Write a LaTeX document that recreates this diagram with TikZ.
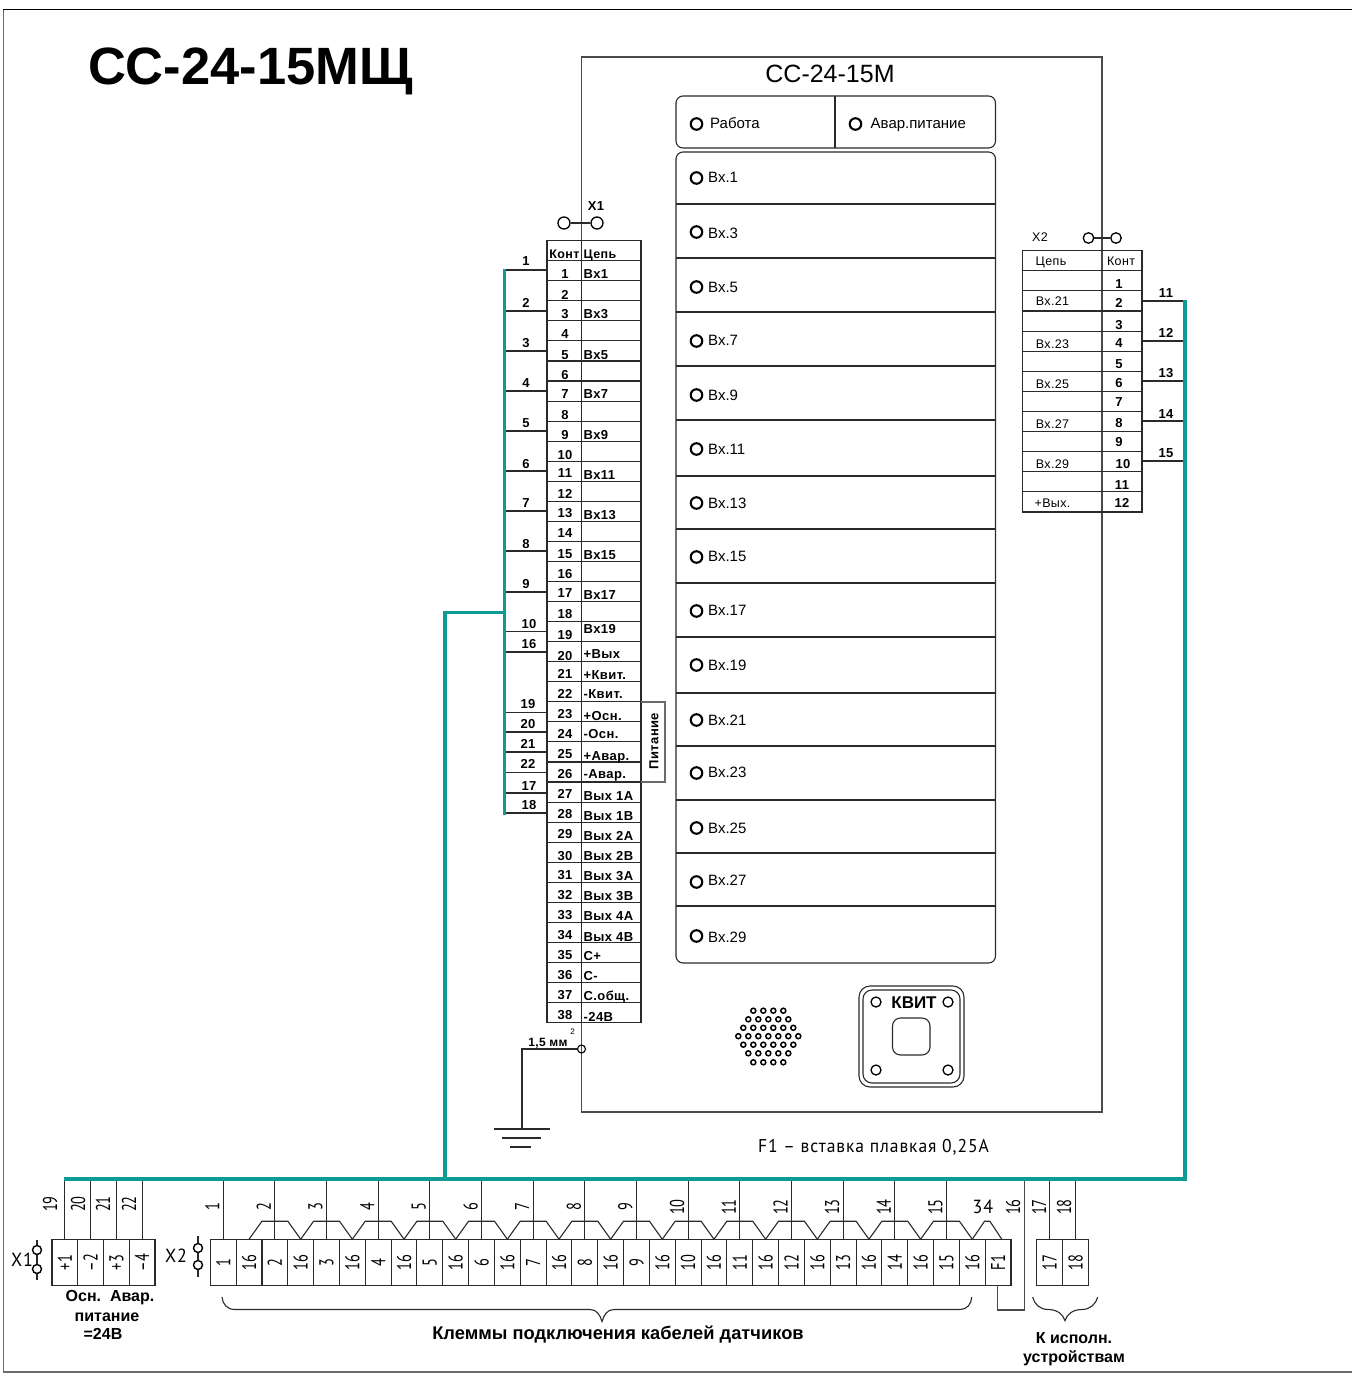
\documentclass[tikz,border=0pt]{standalone}
\usepackage{fontspec}
\usepackage{graphicx}
\setmainfont{Liberation Sans}
\newfontfamily\techfont[FakeStretch=0.72]{PT Sans}
\newfontfamily\techwide[FakeStretch=0.95,LetterSpace=5]{PT Sans}
\newfontfamily\wideb[LetterSpace=3]{Liberation Sans}
\newcommand\fz[1]{\fontsize{#1}{#1}\selectfont}
\newcommand\rt[1]{\rotatebox{90}{#1}}
\definecolor{busteal}{HTML}{0E9A95}
\definecolor{wiregray}{HTML}{2A2A2A}
\definecolor{framegray}{HTML}{6A6A6A}
\tikzset{
  ln/.style={line width=1.1pt,wiregray},
  bus/.style={line width=3.7pt,busteal},
  base/.style={inner sep=0pt,black},
  sz/.style={base,text depth=0pt,text height={#1*0.72pt}},
  tb/.style={sz=13,font=\wideb\fz{13}\bfseries},
  tbh/.style={sz=12.5,font=\wideb\fz{12.5}\bfseries},
  tr/.style={sz=12.5,font=\wideb\fz{12.5}},
  ledlab/.style={sz=15,anchor=west,font=\fz{15}},
  bt/.style={sz=16,font=\fz{16}\bfseries},
  tech/.style={sz=19,font=\techwide\fz{19}},
  techr/.style={base,font=\techfont\fz{20}},
  led/.style={circle,draw=black,line width=2.1pt,minimum size=11.5pt,inner sep=0pt},
  term/.style={circle,draw=black,line width=1.3pt,minimum size=12pt,inner sep=0pt},
  sterm/.style={circle,draw=black,line width=1.4pt,minimum size=9pt,inner sep=0pt},
  cell/.style={draw=wiregray,line width=1.1pt,minimum width=25.83pt,minimum height=45.5pt,inner sep=0pt,font=\techfont\fz{20}},
  dot/.style={circle,draw=black,fill=white,line width=1.5pt,minimum size=5pt,inner sep=0pt},
  hole/.style={circle,draw=black,line width=1.3pt,minimum size=10pt,inner sep=0pt}
}
\begin{document}
\begin{tikzpicture}[x=1pt,y=-1pt]
\useasboundingbox (0,0) rectangle (1352,1374);
\draw[framegray,line width=1.5pt] (1353,1372) -- (3.5,1372) -- (3.5,9.5);
\draw[black,line width=1.2pt] (3,9.5) -- (1353,9.5);
\node[sz=52.5,font=\fz{52.5}\bfseries] (title) at (250.5,66) {СС-24-15МЩ};
% device outline
\draw[ln,framegray!70!black] (581.5,1112) -- (581.5,57) -- (1102,57) -- (1102,1112) -- cycle;
\node[sz=25,font=\fz{25}] (devname) at (830,73) {СС-24-15М};
% upper panel
\draw[ln,rounded corners=7pt] (676,96) rectangle (995.5,148);
\draw[ln] (835,96) -- (835,148);
\node[led] (ledA) at (696.5,124) {};
\node[ledlab] (labA) at (710,123) {Работа};
\node[led] (ledB) at (855.5,124) {};
\node[ledlab] (labB) at (870.5,123) {Авар.питание};
% main panel
\draw[ln,rounded corners=7pt] (676,152) rectangle (995.5,963);
\foreach \y in {204,258,312,366,420,476,529,583,637,693,746,800,853,906}
  \draw[ln] (676,\y) -- (995.5,\y);
\foreach \ly/\ty/\t [count=\i] in {178/177/1,232/233/3,287/287/5,341/340/7,395/395/9,449/449/11,503/503/13,557/556/15,611/610/17,665/665/19,720/720/21,773/772/23,828/828/25,882/880/27,936/937/29}{
  \node[led] (vled\i) at (696.5,\ly) {};
  \node[ledlab] (vlab\i) at (708,\ty) {Вх.\t};
}
% X1 connector
\node[term] (xoneA) at (564,223) {};
\node[term] (xoneB) at (597,223) {};
\draw[ln] (xoneA) -- (xoneB);
\node[tb] (xonelab) at (596,206) {X1};
% left table
\draw[ln] (547,240.5) rectangle (641,1022.7);
\draw[ln] (581.5,240.5) -- (581.5,1022.7);
\foreach \i in {0,...,38}
  \draw[ln] (547,260.7+20.05*\i) -- (641,260.7+20.05*\i);
\node[tbh] (hkont) at (564.5,254) {Конт};
\node[tbh] (hcep) at (600,254) {Цепь};
\foreach \y [count=\i] in {274,295,314,334,355,375,394,415,435,455,473,494,513,533,554,574,593,614,635,656,674,694,714,734,754,774,794,814,834,856,875,895,915,935,955,975,995,1015}
  \node[tb] (lnum\i) at (565,\y) {\i};
\foreach \y/\t [count=\i] in {274/Вх1,314/Вх3,355/Вх5,394/Вх7,435/Вх9,475/Вх11,515/Вх13,555/Вх15,595/Вх17,629/Вх19,654/+Вых,675/+Квит.,694/-Квит.,716/+Осн.,734/-Осн.,756/+Авар.,774/-Авар.,796/Вых 1А,816/Вых 1В,836/Вых 2А,856/Вых 2В,876/Вых 3А,896/Вых 3В,916/Вых 4А,937/Вых 4В,956/С+,976/С-,996/С.общ.,1017/-24В}
  \node[tb,anchor=west] (lname\i) at (583.5,\y) {\t};
% Pitanie bracket
\draw[ln,framegray] (641,702) -- (665,702) -- (665,782) -- (641,782);
\node[base,font=\wideb\fz{13}\bfseries] (pit) at (654,741) {\rt{Питание}};
% left wires
\foreach \y/\n/\ty/\tx in {270/1/261/526,311/2/303/526,351/3/343/526,391/4/383/526,431/5/423/526,471/6/464/526,511/7/503/526,551/8/544/526,592/9/584/526,631.6/10/624/529,652/16/644/529,712.3/19/704/528,732/20/724/528,752/21/744/528,772.6/22/764/528,793/17/786/529,813/18/805/529}{
  \coordinate (la\n) at (504.5,\y);
  \coordinate (lb\n) at (547,\y);
  \draw[ln] (la\n) -- (lb\n);
  \node[tb] (lw\n) at (\tx,\ty) {\n};
}
% ground
\node[sz=12,font=\wideb\fz{12}\bfseries] (mm) at (548,1042) {1,5 мм};
\node[sz=8,font=\fz{8}] (mmsq) at (572.5,1032) {2};
\node[circle,draw=black,line width=1.1pt,minimum size=8pt,inner sep=0pt] (gnode) at (581.5,1049) {};
\coordinate (gtop) at (522,1129);
\draw[ln] (gnode) -| (gtop);
\draw[ln] (494,1129) -- (550,1129);
\draw[ln] (502,1138) -- (541,1138);
\draw[ln] (510,1147) -- (531,1147);
% grille
\foreach \yy/\nn in {1010.7/4,1019.3/5,1027.8/6,1036.2/7,1044.7/6,1053.3/5,1062.3/4}
  \foreach \k in {1,...,\nn}
    \node[dot] at ({768.3+10*(\k-(\nn+1)/2)},\yy) {};
% button
\draw[ln,rounded corners=11pt] (859,986) rectangle (964,1087);
\draw[ln,rounded corners=9pt] (863,990) rectangle (960,1083);
\draw[ln,rounded corners=8pt] (892.5,1018) rectangle (930,1055);
\node[hole] (h1) at (876,1002) {};
\node[hole] (h2) at (948,1002) {};
\node[hole] (h3) at (876,1070) {};
\node[hole] (h4) at (948,1070) {};
\node[sz=17,font=\fz{17}\bfseries] (kvit) at (914,1002) {КВИТ};
\node[tech,anchor=west,font=\techwide\fz{18.5}] (fuse) at (758,1146) {F1 – вставка плавкая 0,25А};
% X2 connector and table
\node[term,minimum size=10.5pt] (xtwoA) at (1088.5,238) {};
\node[term,minimum size=10.5pt] (xtwoB) at (1116,238) {};
\draw[ln] (xtwoA) -- (xtwoB);
\node[tr] (xtwolab) at (1040,237) {X2};
\draw[ln] (1022.5,250.7) rectangle (1142,512);
\foreach \i in {1,...,12}
  \draw[ln] (1022.5,250.7+20.1*\i) -- (1142,250.7+20.1*\i);
\node[tr] (rcep) at (1051,261) {Цепь};
\node[tr] (rkont) at (1121,261) {Конт};
\foreach \y/\xx [count=\i] in {284/1119,303/1119,325/1119,343/1119,364/1119,383/1119,402/1119,423/1119,442/1119,464/1123,485/1122,503/1122}
  \node[tb] (rnum\i) at (\xx,\y) {\i};
\foreach \y/\t [count=\i] in {301/Вх.21,344/Вх.23,384/Вх.25,424/Вх.27,464/Вх.29,503/+Вых.}
  \node[tr] (rname\i) at (1052.5,\y) {\t};
\foreach \y/\n/\ty in {301/11/293,341/12/333,381/13/373,421/14/414,461/15/453}{
  \coordinate (ra\n) at (1142,\y);
  \coordinate (rb\n) at (1185,\y);
  \draw[ln] (ra\n) -- (rb\n);
  \node[tb] (rw\n) at (1166,\ty) {\n};
}
% bottom blocks
\coordinate (bus) at (0,1179);
% X1 terminal block
\foreach \t/\w [count=\i] in {+1/19,–2/20,+3/21,–4/22}{
  \node[cell] (pc\i) at ({52+25.75*(\i-.5)},1262.5) {\rt{\t}};
  \draw[ln] (pc\i.north) -- (pc\i.north |- bus);
}
\node[techr] (pl19) at (50,1204) {\rt{19}};
\node[techr] (pl20) at (78,1204) {\rt{20}};
\node[techr] (pl21) at (103,1204) {\rt{21}};
\node[techr] (pl22) at (129,1204) {\rt{22}};
\node[sterm] (p1a) at (37,1250) {};
\node[sterm] (p1b) at (37,1269) {};
\coordinate (p1t) at (37,1240);
\coordinate (p1e) at (37,1280);
\draw[ln] (p1t) -- (p1a) -- (p1b) -- (p1e);
\node[tech] (p1l) at (22,1260) {X1};
% X2 terminal block
\foreach \i in {0,...,30}{
  \pgfmathtruncatemacro\kk{\i/2+1}
  \pgfmathtruncatemacro\oddq{mod(\i,2)}
  \ifnum\i=30 \def\ct{F1}\else\ifnum\oddq=1 \def\ct{16}\else\edef\ct{\kk}\fi\fi
  \node[cell] (xc\i) at ({210.3+25.83*(\i+.5)},1262.5) {\rt{\ct}};
}
\foreach \k in {1,...,15}{
  \pgfmathtruncatemacro\idx{2*(\k-1)}
  \draw[ln] (xc\idx.north) -- (xc\idx.north |- bus);
  \node[techr] (xl\k) at ({223.2+51.66*(\k-1)-11},1207) {\rt{\k}};
}
% jumpers
\foreach \a/\b in {1/3,3/5,5/7,7/9,9/11,11/13,13/15,15/17,17/19,19/21,21/23,23/25,25/27,27/29}
  \draw[ln] (xc\a.north) -- ++(12.9,-18) -- ++(25.9,0) -- (xc\b.north);
\coordinate (jend) at (1002.3,1240);
\draw[ln] (xc29.north) -- ++(12.3,-18) -- ++(5.3,0) -- (jend);
\node[tech] (l34) at (983,1207) {34};
\node[techr] (l16) at (1013,1207) {\rt{16}};
\coordinate (fa) at (997.7,1285);
\coordinate (fb) at (997.7,1310);
\coordinate (fc) at (1024.3,1310);
\draw[ln,framegray!70!black] (fa) -- (fb) -- (fc) -- (fc |- bus);
% X2 connector bottom
\node[sterm] (p2a) at (198,1248) {};
\node[sterm] (p2b) at (198,1265) {};
\coordinate (p2t) at (198,1236);
\coordinate (p2e) at (198,1277);
\draw[ln] (p2t) -- (p2a) -- (p2b) -- (p2e);
\node[tech] (p2l) at (176,1256) {X2};
% 17 18 block
\node[cell,minimum width=26.15pt] (cc17) at (1049.5,1262.5) {\rt{17}};
\node[cell,minimum width=26.15pt] (cc18) at (1075.6,1262.5) {\rt{18}};
\draw[ln] (cc17.north) -- (cc17.north |- bus);
\draw[ln] (cc18.north) -- (cc18.north |- bus);
\node[techr] (l17) at (1039,1207) {\rt{17}};
\node[techr] (l18) at (1064,1207) {\rt{18}};
% teal buses
\coordinate (tA) at (504.5,269);
\coordinate (tB) at (504.5,815);
\coordinate (tC) at (504.5,612.5);
\coordinate (tD) at (445,612.5);
\coordinate (tE) at (445,1179);
\coordinate (tF) at (64,1179);
\coordinate (tG) at (1185,1179);
\coordinate (tH) at (1185,300);
\draw[bus] (tA) -- (tB);
\draw[bus] (tC) -- (tD) -- (tE);
\draw[bus,line join=miter] (tF) -- (tG) -- (tH);
% braces
\draw[ln] (222,1297) .. controls (222.5,1304) and (227,1309.5) .. (235,1309.5) -- (590,1309.5) .. controls (597,1309.5) and (600,1315) .. (602,1321.5) .. controls (604,1315) and (607,1309.5) .. (614,1309.5) -- (960,1309.5) .. controls (967,1309.5) and (971.5,1304) .. (971.7,1297);
\draw[ln] (1032.7,1297) .. controls (1034,1304) and (1040,1309.5) .. (1048,1309.5) .. controls (1057,1309.5) and (1063,1314) .. (1065,1320.7) .. controls (1067,1314) and (1073,1309.5) .. (1082,1309.5) .. controls (1090,1309.5) and (1096,1304) .. (1097.7,1297);
% captions
\node[sz=18.3,font=\fz{18.3}\bfseries] (capmain) at (618,1333) {Клеммы подключения кабелей датчиков};
\node[bt] (cap1a) at (1074,1338) {К исполн.};
\node[bt] (cap1b) at (1074,1357) {устройствам};
\node[bt] (cap2a) at (110,1296) {Осн.\ \ Авар.};
\node[bt] (cap2b) at (107,1316) {питание};
\node[bt] (cap2c) at (103,1334) {=24В};
\end{tikzpicture}
\end{document}
